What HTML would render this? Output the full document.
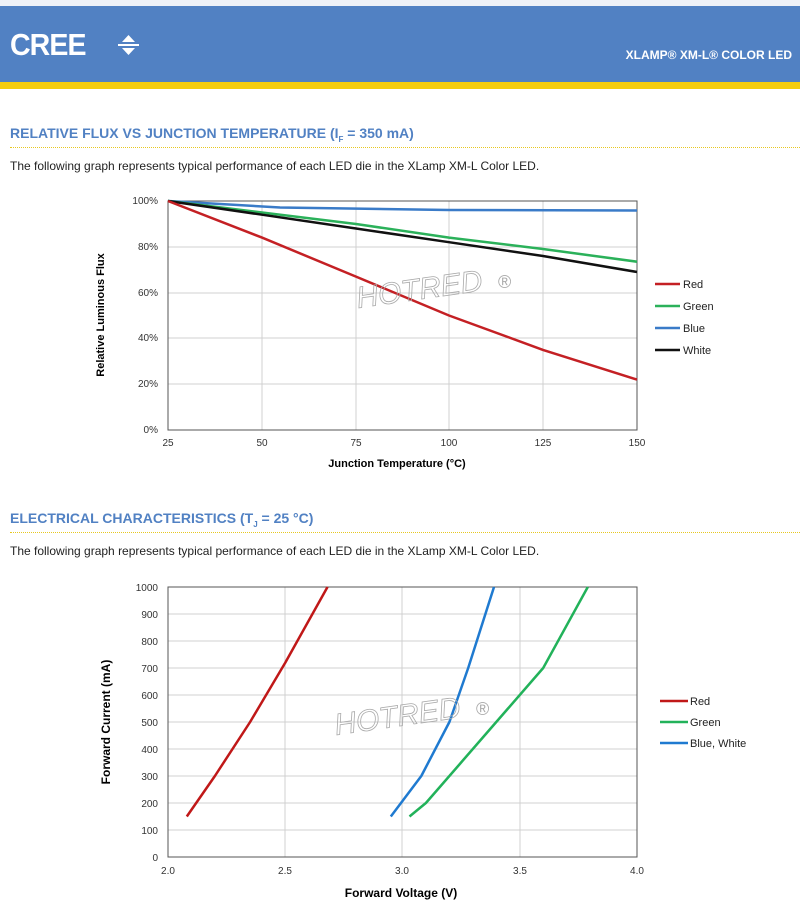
<!DOCTYPE html>
<html><head><meta charset="utf-8"><style>
body{margin:0;width:800px;height:909px;background:#fff;font-family:"Liberation Sans",sans-serif;position:relative;overflow:hidden}
.a{position:absolute}
</style></head><body>
<div class="a" style="left:0;top:0;width:800px;height:6px;background:#eef1f7"></div>
<div class="a" style="left:0;top:6px;width:800px;height:76px;background:#5181c3"></div>
<div class="a" style="left:0;top:82px;width:800px;height:7px;background:#f5cd0f"></div>
<div class="a" style="left:10px;top:27px;color:#fff;font-weight:bold;font-size:31px;letter-spacing:-1px;transform:scaleX(0.92);transform-origin:left">CREE</div>
<svg class="a" style="left:116px;top:34px" width="28" height="24"><polygon points="6,8 12.5,1 19,8" fill="#fff"/><rect x="2" y="10" width="21" height="2" fill="#fff"/><polygon points="6,14 12.5,21 19,14" fill="#fff"/></svg>
<div class="a" style="right:8px;top:48px;color:#fff;font-weight:bold;font-size:12px">XLAMP® XM-L® COLOR LED</div>

<div class="a" style="left:10px;top:125px;color:#5181c3;font-weight:bold;font-size:14px">RELATIVE FLUX VS JUNCTION TEMPERATURE (I<sub style="font-size:8px">F</sub> = 350 mA)</div>
<div class="a" style="left:10px;top:147px;width:790px;border-top:1px dotted #e8c820"></div>
<div class="a" style="left:10px;top:159px;color:#222;font-size:12px">The following graph represents typical performance of each LED die in the XLamp XM-L Color LED.</div>

<div class="a" style="left:10px;top:510px;color:#5181c3;font-weight:bold;font-size:14px">ELECTRICAL CHARACTERISTICS (T<sub style="font-size:8px">J</sub> = 25 °C)</div>
<div class="a" style="left:10px;top:532px;width:790px;border-top:1px dotted #e8c820"></div>
<div class="a" style="left:10px;top:544px;color:#222;font-size:12px">The following graph represents typical performance of each LED die in the XLamp XM-L Color LED.</div>

<svg class="a" style="left:0;top:0" width="800" height="909" font-family="Liberation Sans, sans-serif">
<g stroke="#d0d0d0" stroke-width="1">
<line x1="168" y1="201" x2="637" y2="201"/><line x1="168" y1="247" x2="637" y2="247"/><line x1="168" y1="293" x2="637" y2="293"/><line x1="168" y1="338" x2="637" y2="338"/><line x1="168" y1="384" x2="637" y2="384"/>
<line x1="262" y1="201" x2="262" y2="430"/><line x1="356" y1="201" x2="356" y2="430"/><line x1="449" y1="201" x2="449" y2="430"/><line x1="543" y1="201" x2="543" y2="430"/>
</g>
<rect x="168" y="201" width="469" height="229" fill="none" stroke="#555"/>
<g font-size="10" fill="#333" text-anchor="end">
<text x="158" y="204">100%</text><text x="158" y="250">80%</text><text x="158" y="296">60%</text><text x="158" y="341">40%</text><text x="158" y="387">20%</text><text x="158" y="433">0%</text>
</g>
<g font-size="10" fill="#333" text-anchor="middle">
<text x="168" y="446">25</text><text x="262" y="446">50</text><text x="356" y="446">75</text><text x="449" y="446">100</text><text x="543" y="446">125</text><text x="637" y="446">150</text>
</g>
<text x="397" y="467" font-size="11" font-weight="bold" text-anchor="middle">Junction Temperature (°C)</text>
<text transform="translate(104,315) rotate(-90)" font-size="11" font-weight="bold" text-anchor="middle">Relative Luminous Flux</text>
<g fill="none" stroke-width="2.5" stroke-linejoin="round">
<polyline stroke="#3a7bc8" points="168,201 280,207.5 449,210 637,210.5"/>
<polyline stroke="#2bb15a" points="168,201 262,212.5 356,224 449,237.6 543,249 637,261.7"/>
<polyline stroke="#111" points="168,201 262,214.7 356,228.5 449,242.2 543,256 637,272"/>
<polyline stroke="#c42024" points="168,201 262,237.6 356,276.6 449,315.5 543,349.9 637,379.6"/>
</g>
<g font-size="11" fill="#222">
<line x1="655" y1="284" x2="680" y2="284" stroke="#c42024" stroke-width="2.5"/><text x="683" y="288">Red</text>
<line x1="655" y1="306" x2="680" y2="306" stroke="#2bb15a" stroke-width="2.5"/><text x="683" y="310">Green</text>
<line x1="655" y1="328" x2="680" y2="328" stroke="#3a7bc8" stroke-width="2.5"/><text x="683" y="332">Blue</text>
<line x1="655" y1="350" x2="680" y2="350" stroke="#111" stroke-width="2.5"/><text x="683" y="354">White</text>
</g>
<text x="358" y="308" font-size="30" font-style="italic" fill="none" stroke="#aaa" stroke-width="0.8" transform="rotate(-8 358 308)">HOTRED</text>
<text x="498" y="288" font-size="18" fill="#aaa">®</text>

<g stroke="#d0d0d0" stroke-width="1">
<line x1="168" y1="614" x2="637" y2="614"/><line x1="168" y1="641" x2="637" y2="641"/><line x1="168" y1="668" x2="637" y2="668"/><line x1="168" y1="695" x2="637" y2="695"/><line x1="168" y1="722" x2="637" y2="722"/><line x1="168" y1="749" x2="637" y2="749"/><line x1="168" y1="776" x2="637" y2="776"/><line x1="168" y1="803" x2="637" y2="803"/><line x1="168" y1="830" x2="637" y2="830"/>
<line x1="285" y1="587" x2="285" y2="857"/><line x1="402" y1="587" x2="402" y2="857"/><line x1="520" y1="587" x2="520" y2="857"/>
</g>
<rect x="168" y="587" width="469" height="270" fill="none" stroke="#555"/>
<g font-size="10" fill="#333" text-anchor="end">
<text x="158" y="591">1000</text><text x="158" y="618">900</text><text x="158" y="645">800</text><text x="158" y="672">700</text><text x="158" y="699">600</text><text x="158" y="726">500</text><text x="158" y="753">400</text><text x="158" y="780">300</text><text x="158" y="807">200</text><text x="158" y="834">100</text><text x="158" y="861">0</text>
</g>
<g font-size="10" fill="#333" text-anchor="middle">
<text x="168" y="874">2.0</text><text x="285" y="874">2.5</text><text x="402" y="874">3.0</text><text x="520" y="874">3.5</text><text x="637" y="874">4.0</text>
</g>
<text x="401" y="897" font-size="12" font-weight="bold" text-anchor="middle">Forward Voltage (V)</text>
<text transform="translate(110,722) rotate(-90)" font-size="12" font-weight="bold" text-anchor="middle">Forward Current (mA)</text>
<g fill="none" stroke-width="2.5" stroke-linejoin="round">
<polyline stroke="#c01818" points="186.8,816.5 214.9,776 250.1,722 285.3,662.6 327.5,587"/>
<polyline stroke="#1f7ad0" points="390.8,816.5 421.3,776 449.4,722 468.2,668 494,587"/>
<polyline stroke="#22b25a" points="409.5,816.5 425.9,803 461.1,762.5 508,708.5 543.2,668 587.8,587"/>
</g>
<g font-size="11" fill="#222">
<line x1="660" y1="701" x2="688" y2="701" stroke="#c01818" stroke-width="2.5"/><text x="690" y="705">Red</text>
<line x1="660" y1="722" x2="688" y2="722" stroke="#22b25a" stroke-width="2.5"/><text x="690" y="726">Green</text>
<line x1="660" y1="743" x2="688" y2="743" stroke="#1f7ad0" stroke-width="2.5"/><text x="690" y="747">Blue, White</text>
</g>
<text x="336" y="735" font-size="30" font-style="italic" fill="none" stroke="#aaa" stroke-width="0.8" transform="rotate(-8 336 735)">HOTRED</text>
<text x="476" y="715" font-size="18" fill="#aaa">®</text>
</svg>
</body></html>
